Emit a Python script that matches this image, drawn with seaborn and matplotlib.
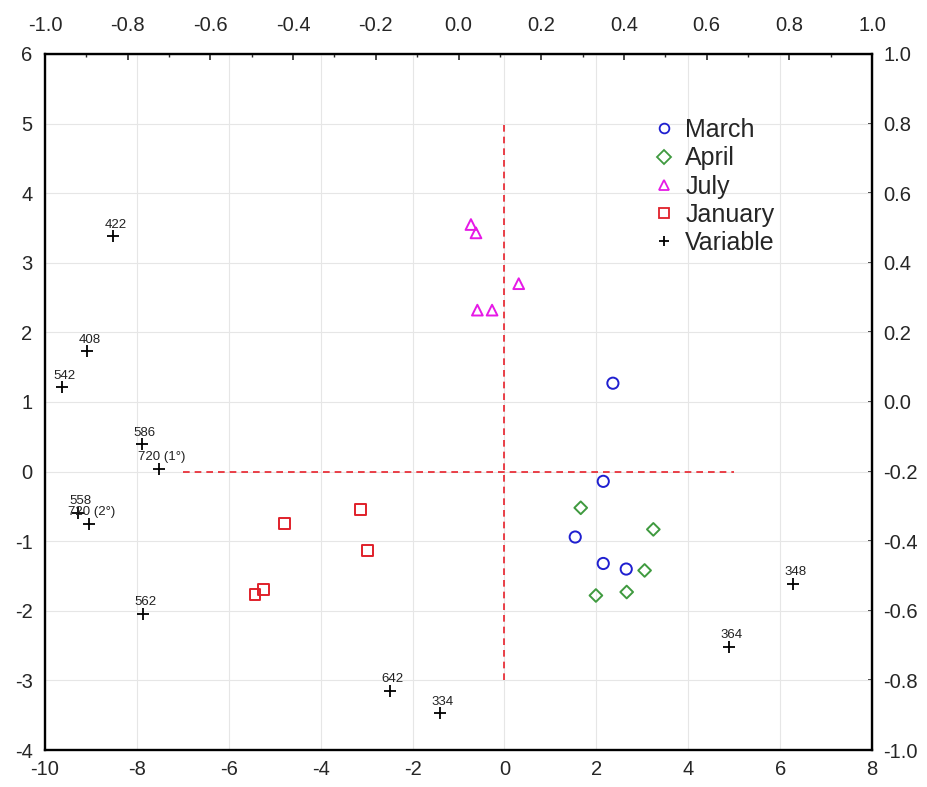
import matplotlib
matplotlib.use("Agg")
import matplotlib.pyplot as plt
from matplotlib.ticker import FixedLocator, FormatStrFormatter
from matplotlib.lines import Line2D
import numpy as np
import seaborn as sns
import pandas as pd

sns.set_style("white")
plt.rcParams["font.family"] = ["Liberation Sans", "DejaVu Sans"]
plt.rcParams["axes.unicode_minus"] = False

# Case scores by sampling month (bottom/left scale)
march_x = [2.36, 2.15, 1.54, 2.15, 2.65]
march_y = [1.27, -0.14, -0.94, -1.32, -1.40]
april_x = [1.66, 3.24, 3.05, 2.66, 1.99]
april_y = [-0.52, -0.83, -1.42, -1.73, -1.78]
july_x = [-0.73, -0.62, 0.31, -0.59, -0.27]
july_y = [3.55, 3.43, 2.70, 2.32, 2.32]
january_x = [-4.78, -3.13, -2.98, -5.25, -5.43]
january_y = [-0.74, -0.55, -1.14, -1.70, -1.76]

# Variables with their labels
var_labels = ["422", "408", "542", "586", "720 (1°)", "558", "720 (2°)",
              "562", "642", "334", "364", "348"]
var_x = [-8.52, -9.09, -9.63, -7.89, -7.52, -9.28, -9.04,
         -7.87, -2.49, -1.40, 4.89, 6.28]
var_y = [3.38, 1.73, 1.21, 0.39, 0.04, -0.59, -0.75,
         -2.04, -3.15, -3.47, -2.52, -1.61]

# Tick positions for the score and loading scales
score_x_ticks = [-10, -8, -6, -4, -2, 0, 2, 4, 6, 8]
score_y_ticks = [-4, -3, -2, -1, 0, 1, 2, 3, 4, 5, 6]
loading_ticks = [-1.0, -0.8, -0.6, -0.4, -0.2, 0.0, 0.2, 0.4, 0.6, 0.8, 1.0]

groups = ["March", "April", "July", "January"]
colors = {"March": "#1f1fd0", "April": "#3f9a3f", "July": "#e619e6",
          "January": "#e0202a", "Variable": "black"}
markers = {"March": "o", "April": "D", "July": "^", "January": "s", "Variable": "+"}
sizes = {"March": 65, "April": 42, "July": 60, "January": 62}

frames = []
for name, xs, ys in [("March", march_x, march_y), ("April", april_x, april_y),
                     ("July", july_x, july_y), ("January", january_x, january_y)]:
    frames.append(pd.DataFrame({"x": xs, "y": ys, "group": name}))
cases = pd.concat(frames, ignore_index=True)
variables = pd.DataFrame({"x": var_x, "y": var_y, "label": var_labels})

fig = plt.figure(figsize=(9.28, 7.87), dpi=100)
ax = fig.add_axes([0.0485, 0.047, 0.9397 - 0.0485, 0.9314 - 0.047])

ax.set_xlim(-10, 8)
ax.set_ylim(-4, 6)

# Axis cross-hairs through the origin
ax.plot([-7, 5], [0, 0], ls=(0, (4, 3)), color="#e8202a", lw=1.2, zorder=1)
ax.plot([0, 0], [-3, 5], ls=(0, (4, 3)), color="#e8202a", lw=1.2, zorder=1)

for g in groups:
    sub = cases[cases["group"] == g]
    sns.scatterplot(data=sub, x="x", y="y", ax=ax, marker=markers[g],
                    s=sizes[g], facecolor="none", edgecolor=colors[g],
                    linewidth=1.4, zorder=3, legend=False)

ax.scatter(variables["x"], variables["y"], marker="+", s=75, color="black",
           linewidths=1.3, zorder=3)
for _, r in variables.iterrows():
    ax.annotate(r["label"], (r["x"], r["y"]), xytext=(2, 4),
                textcoords="offset points", ha="center", va="bottom",
                fontsize=9.5, color="#222222")

# Grid, ticks and spines
ax.xaxis.set_major_locator(FixedLocator(score_x_ticks))
ax.xaxis.set_minor_locator(FixedLocator(np.arange(-9, 8, 2)))
ax.yaxis.set_major_locator(FixedLocator(score_y_ticks))
ax.yaxis.set_minor_locator(FixedLocator(np.arange(-3.75, 6, 0.25)))
ax.grid(True, which="major", color="#e6e6e6", lw=0.8)
ax.set_axisbelow(True)
ax.tick_params(which="major", direction="in", length=4, width=1.2,
               labelsize=14.5)
ax.tick_params(axis="x", which="major", pad=7)
ax.tick_params(axis="y", which="major", pad=9)
ax.tick_params(which="minor", direction="in", length=2.5, width=1.0)
ax.set_xlabel("")
ax.set_ylabel("")
for s in ax.spines.values():
    s.set_color("black")
    s.set_linewidth(1.7)

# Loading scale on top and right
top = ax.secondary_xaxis("top", functions=(lambda x: (x + 1) / 9.0,
                                           lambda t: 9.0 * t - 1))
top.xaxis.set_major_locator(FixedLocator(loading_ticks))
top.xaxis.set_minor_locator(FixedLocator(np.arange(-0.9, 1.0, 0.2)))
top.xaxis.set_major_formatter(FormatStrFormatter("%.1f"))
top.tick_params(which="major", direction="in", length=4, width=1.2,
                labelsize=14.5, pad=14)
top.tick_params(which="minor", direction="in", length=2.5, width=1.0)

right = ax.secondary_yaxis("right", functions=(lambda y: (y - 1) / 5.0,
                                               lambda r: 5.0 * r + 1))
right.yaxis.set_major_locator(FixedLocator(loading_ticks))
right.yaxis.set_major_formatter(FormatStrFormatter("%.1f"))
right.tick_params(which="major", direction="in", length=3, width=1.2,
                  labelsize=14.5, pad=8)
right.tick_params(which="minor", length=0)

handles = [Line2D([], [], ls="none", marker=markers[g], markersize=7,
                  markerfacecolor="none", markeredgecolor=colors[g],
                  markeredgewidth=1.3, label=g) for g in groups]
handles.append(Line2D([], [], ls="none", marker="+", markersize=7.5,
                      color="black", markeredgewidth=1.3, label="Variable"))
ax.legend(handles=handles, loc="upper left", bbox_to_anchor=(0.735, 0.908),
          frameon=False, fontsize=18, handletextpad=0.45, labelspacing=0.17,
          handlelength=0.85, borderaxespad=0, borderpad=0)

fig.savefig("out.png", dpi=100)
